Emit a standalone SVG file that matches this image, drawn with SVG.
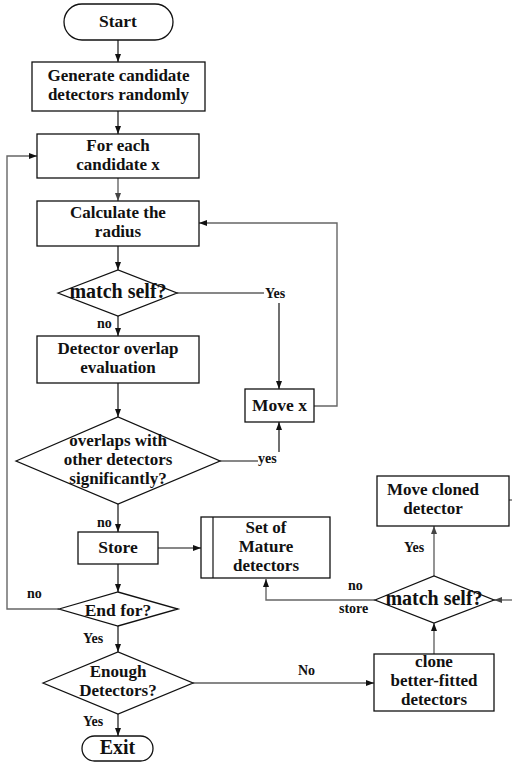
<svg xmlns="http://www.w3.org/2000/svg" width="512" height="762" viewBox="0 0 512 762">
<style>
.box{fill:#fff;stroke:#111;stroke-width:1.3}
.t{font-family:"Liberation Serif","Times New Roman",serif;font-weight:bold;font-size:17.5px;fill:#111;text-anchor:middle}
.m{font-size:17px}
.big{font-size:20px}
.lbl{font-family:"Liberation Serif","Times New Roman",serif;font-weight:bold;font-size:14px;fill:#111}
.c{fill:none;stroke:#111;stroke-width:1.2}
.g{fill:none;stroke:#666;stroke-width:1.4}
</style>
<defs>
<marker id="a" markerUnits="userSpaceOnUse" markerWidth="9" markerHeight="7" refX="8" refY="3" orient="auto"><path d="M0,0 L8,3 L0,6 z" fill="#111"/></marker>
<marker id="ag" markerUnits="userSpaceOnUse" markerWidth="9" markerHeight="7" refX="8" refY="3" orient="auto"><path d="M0,0 L8,3 L0,6 z" fill="#444"/></marker>
</defs>
<g id="connectors">
<path class="c" d="M118,40 V62" marker-end="url(#a)"/>
<path class="c" d="M118,111 V134" marker-end="url(#a)"/>
<path class="g" d="M118,178 V201" marker-end="url(#ag)"/>
<path class="c" d="M118,246 V270" marker-end="url(#a)"/>
<path class="c" d="M177,293 H264"/>
<path class="c" d="M279,303 V389" marker-end="url(#a)"/>
<path class="c" d="M118,316 V336" marker-end="url(#a)"/>
<path class="c" d="M118,383 V417" marker-end="url(#a)"/>
<path class="g" d="M314,406 H337 V223 H199" marker-end="url(#a)"/>
<path class="c" d="M220,461 H258"/>
<path class="c" d="M279,452 V422" marker-end="url(#a)"/>
<path class="c" d="M118,504 V532" marker-end="url(#a)"/>
<path class="c" d="M158,548 H201" marker-end="url(#a)"/>
<path class="c" d="M118,564 V592" marker-end="url(#a)"/>
<path class="g" d="M59,609 H7 V156 H37" marker-end="url(#a)"/>
<path class="c" d="M118,626 V652" marker-end="url(#a)"/>
<path class="c" d="M118,714 V736" marker-end="url(#a)"/>
<path class="c" d="M193,683 H374" marker-end="url(#a)"/>
<path class="g" d="M434,654 V623" marker-end="url(#a)"/>
<path class="g" d="M434,576 V526" marker-end="url(#ag)"/>
<path class="g" d="M509,500 H512"/>
<path class="g" d="M512,600 H494" marker-end="url(#ag)"/>
<path class="g" d="M375,600 H266 V579" marker-end="url(#a)"/>
<text class="lbl" x="265" y="298">Yes</text>
<text class="lbl" x="258" y="463">yes</text>
<text class="lbl" x="97" y="328">no</text>
<text class="lbl" x="97" y="527">no</text>
<text class="lbl" x="27" y="598">no</text>
<text class="lbl" x="83" y="643">Yes</text>
<text class="lbl" x="83" y="726">Yes</text>
<text class="lbl" x="298" y="675">No</text>
<text class="lbl" x="404" y="552">Yes</text>
<text class="lbl" x="348" y="590">no</text>
<text class="lbl" x="339" y="613">store</text>
</g>
<g id="start"><rect class="box" x="64" y="4" width="109" height="36" rx="18"/><text class="t" x="118" y="27">Start</text></g>
<g id="generate"><rect class="box" x="32" y="62" width="173" height="49"/><text class="t m" x="118.5" y="81">Generate candidate</text><text class="t m" x="118.5" y="100">detectors randomly</text></g>
<g id="foreach"><rect class="box" x="37" y="134" width="162" height="44"/><text class="t m" x="118" y="151">For each</text><text class="t m" x="118" y="170">candidate x</text></g>
<g id="calc"><rect class="box" x="37" y="201" width="162" height="45"/><text class="t m" x="118" y="218">Calculate the</text><text class="t m" x="118" y="237">radius</text></g>
<g id="match1"><polygon class="box" points="58,293 118,270 177,293 118,316"/><text class="t big" x="118" y="298">match self?</text></g>
<g id="overlap"><rect class="box" x="37" y="336" width="162" height="47"/><text class="t m" x="118" y="354">Detector overlap</text><text class="t m" x="118" y="373">evaluation</text></g>
<g id="movex"><rect class="box" x="245" y="389" width="69" height="33"/><text class="t" x="279.5" y="411">Move x</text></g>
<g id="overlaps"><polygon class="box" points="16,461 118,417 220,461 118,504"/><text class="t m" x="118" y="446">overlaps with</text><text class="t m" x="118" y="465">other detectors</text><text class="t m" x="118" y="484">significantly?</text></g>
<g id="store"><rect class="box" x="78" y="532" width="80" height="32"/><text class="t" x="118" y="553">Store</text></g>
<g id="set"><rect class="box" x="201" y="517" width="129" height="61"/><line class="c" x1="213" y1="517" x2="213" y2="578"/><text class="t m" x="266" y="533">Set of</text><text class="t m" x="266" y="552">Mature</text><text class="t m" x="266" y="571">detectors</text></g>
<g id="endfor"><polygon class="box" points="59,609 118,592 178,609 118,626"/><text class="t" x="118" y="616">End for?</text></g>
<g id="enough"><polygon class="box" points="43,683 118,652 193,683 118,714"/><text class="t m" x="118" y="677">Enough</text><text class="t m" x="118" y="696">Detectors?</text></g>
<g id="exit"><rect class="box" x="82" y="736" width="71" height="25" rx="12.5"/><text class="t big" x="117.5" y="754">Exit</text></g>
<g id="clone"><rect class="box" x="374" y="654" width="120" height="57"/><text class="t m" x="434" y="667">clone</text><text class="t m" x="434" y="686">better-fitted</text><text class="t m" x="434" y="705">detectors</text></g>
<g id="match2"><polygon class="box" points="375,600 434,576 494,600 434,623"/><text class="t big" x="434" y="605">match self?</text></g>
<g id="movecloned"><rect class="box" x="377" y="476" width="132" height="50"/><text class="t m" x="433" y="495">Move cloned</text><text class="t m" x="433" y="514">detector</text></g>
</svg>
